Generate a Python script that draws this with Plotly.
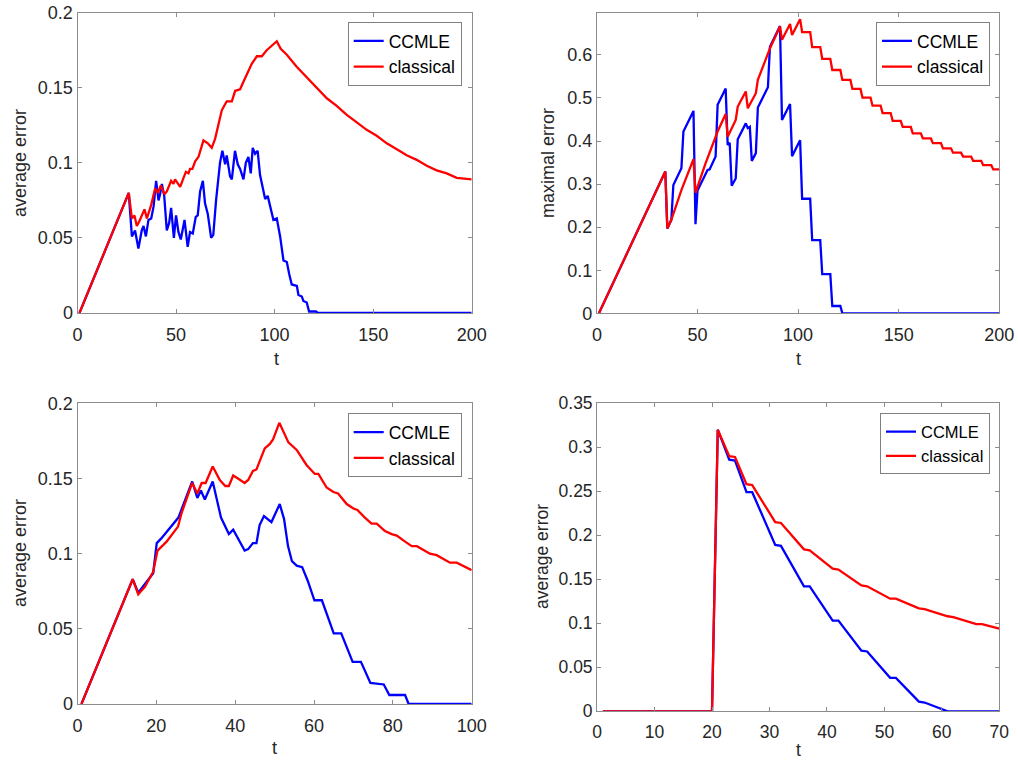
import plotly.graph_objects as go

# ---------------- data ----------------
# Panel 1 (top-left): average error, t = 0..200
p1_ccmle_t = [1, 26, 27.6, 29.2, 30.9, 32.6, 33.5, 34.7, 36.0, 37.4, 38.6, 39.9, 41.1, 41.9, 42.8, 44.0,
              45.3, 46.5, 47.5, 48.9, 50.0, 51.2, 52.4, 54.3, 55.9, 57.1, 58.5, 60.0, 61.0, 62.2, 63.6,
              64.7, 66.1, 67.8, 68.9, 70.3, 72.3, 73.5, 74.9, 75.7, 77.4, 78.3, 79.9, 81.3, 82.5, 84.2,
              85.4, 86.7, 87.9, 88.9, 90.1, 91.4, 92.6, 94.3, 95.2, 96.5, 98.2, 99.4, 101.1, 102.8, 104.5,
              106.2, 107.4, 108.7, 111.3, 112.1, 113.8, 114.6, 116.3, 117.5, 121, 122, 200]
p1_ccmle_v = [0, 0.080, 0.051, 0.055, 0.043, 0.055, 0.058, 0.051, 0.062, 0.063, 0.071, 0.088, 0.075, 0.079,
              0.086, 0.078, 0.055, 0.060, 0.070, 0.050, 0.065, 0.054, 0.049, 0.062, 0.044, 0.054, 0.053,
              0.064, 0.065, 0.081, 0.088, 0.073, 0.066, 0.050, 0.052, 0.075, 0.100, 0.108, 0.099, 0.105,
              0.091, 0.089, 0.108, 0.099, 0.096, 0.089, 0.100, 0.104, 0.093, 0.110, 0.106, 0.108, 0.092,
              0.080, 0.076, 0.078, 0.068, 0.062, 0.063, 0.051, 0.035, 0.034, 0.026, 0.019, 0.018, 0.012,
              0.011, 0.008, 0.007, 0.001, 0.001, 0, 0]
p1_class_t = [1, 26, 27.6, 28.9, 30.1, 31.3, 34.0, 35.2, 37.4, 39.4, 40.8, 42.3, 44.1, 45.3, 47.5, 48.7,
              49.5, 50.4, 52.1, 53.8, 55.0, 56.3, 57.1, 58.3, 59.7, 61.4, 63.9, 66.1, 68.1, 69.8, 73.2,
              75.7, 78.3, 80.0, 82.5, 84.2, 86.7, 88.4, 91.0, 93.5, 96.0, 98.6, 101.1, 103.1, 106.2, 111.2,
              116.3, 121.4, 126.5, 131.5, 136.6, 141.7, 146.7, 151.8, 156.9, 162.0, 167.0, 172.1, 177.2,
              182.2, 187.3, 192.4, 200]
p1_class_v = [0, 0.080, 0.063, 0.065, 0.058, 0.061, 0.069, 0.063, 0.072, 0.083, 0.080, 0.085, 0.079, 0.081,
              0.088, 0.086, 0.089, 0.087, 0.084, 0.090, 0.094, 0.093, 0.096, 0.096, 0.101, 0.104, 0.115,
              0.113, 0.110, 0.116, 0.135, 0.141, 0.141, 0.148, 0.149, 0.154, 0.161, 0.166, 0.171, 0.171,
              0.175, 0.178, 0.181, 0.176, 0.172, 0.164, 0.157, 0.150, 0.143, 0.138, 0.132, 0.127, 0.122,
              0.118, 0.113, 0.109, 0.105, 0.102, 0.098, 0.095, 0.093, 0.090, 0.089]

# Panel 2 (top-right): maximal error, t = 0..200
p2_ccmle_t = [1, 34, 35, 37, 38, 42, 43, 48, 49, 50, 55, 56, 59, 60, 64, 65, 66, 67, 69, 70, 74, 75, 76,
              77, 79, 80, 85, 86, 91, 92, 96, 97, 101, 102, 106, 107, 111, 112, 116, 117, 121, 122, 200]
p2_ccmle_v = [0, 0.329, 0.197, 0.217, 0.298, 0.337, 0.422, 0.470, 0.207, 0.285, 0.333, 0.334, 0.364,
              0.484, 0.522, 0.391, 0.396, 0.296, 0.313, 0.404, 0.441, 0.430, 0.433, 0.354, 0.372, 0.478,
              0.525, 0.619, 0.667, 0.449, 0.486, 0.365, 0.402, 0.266, 0.266, 0.170, 0.170, 0.091, 0.091,
              0.017, 0.017, 0, 0]
p2_class_t = [1, 34, 35, 37, 42, 44, 48, 49, 54, 60, 64, 65, 69, 70, 74, 75, 79, 80, 86, 91, 92, 96, 97,
              101, 102, 106, 107, 111, 112, 116, 117, 121, 122, 126, 127, 131, 132, 136, 137, 141, 142,
              146, 147, 151, 152, 156, 157, 161, 162, 166, 167, 171, 172, 176, 177, 181, 182, 186, 187,
              191, 192, 196, 197, 200]
p2_class_v = [0, 0.329, 0.197, 0.217, 0.286, 0.310, 0.358, 0.280, 0.348, 0.422, 0.463, 0.410, 0.449,
              0.480, 0.515, 0.476, 0.511, 0.542, 0.615, 0.666, 0.635, 0.672, 0.646, 0.683, 0.653, 0.653,
              0.618, 0.618, 0.591, 0.591, 0.565, 0.565, 0.542, 0.542, 0.521, 0.521, 0.501, 0.501, 0.482,
              0.482, 0.465, 0.465, 0.447, 0.447, 0.433, 0.433, 0.418, 0.418, 0.406, 0.406, 0.395, 0.395,
              0.383, 0.383, 0.373, 0.373, 0.364, 0.364, 0.354, 0.354, 0.344, 0.344, 0.334, 0.334]

# Panel 3 (bottom-left): average error, t = 0..100
p3_ccmle_t = [1, 14, 15.4, 19.2, 20.1, 21.2, 25.6, 29.1, 30.4, 31.3, 32.3, 34.3, 36.4, 38.4, 39.5, 42.4,
              43.3, 44.5, 45.4, 46.2, 47.3, 49.2, 51.3, 52.4, 53.4, 54.4, 55.6, 57.0, 58.4, 60.1, 62.0,
              65.0, 66.9, 69.8, 71.9, 74.3, 77.7, 79.1, 83.1, 84.0, 100]
p3_ccmle_v = [0, 0.083, 0.074, 0.087, 0.107, 0.110, 0.124, 0.148, 0.137, 0.142, 0.136, 0.148, 0.124,
              0.113, 0.116, 0.102, 0.103, 0.107, 0.107, 0.119, 0.125, 0.121, 0.133, 0.123, 0.105, 0.095,
              0.092, 0.091, 0.082, 0.069, 0.069, 0.047, 0.047, 0.028, 0.028, 0.014, 0.013, 0.006, 0.006,
              0, 0]
p3_class_t = [1, 14, 15.4, 17.1, 19.2, 20.3, 22.6, 25.5, 26.4, 29.1, 30.4, 31.5, 32.5, 34.3, 36.1, 37.5,
              38.4, 39.5, 40.7, 42.4, 43.3, 44.5, 45.4, 47.5, 48.8, 49.6, 51.2, 53.5, 55.6, 58.1, 60.2,
              61.1, 63.2, 64.9, 66.1, 68.3, 70.0, 71.0, 72.9, 74.6, 75.9, 78.0, 79.7, 81.0, 83.1, 84.8,
              86.1, 88.2, 89.4, 91.1, 93.2, 94.5, 96.2, 97.9, 100]
p3_class_v = [0, 0.083, 0.073, 0.078, 0.088, 0.102, 0.108, 0.118, 0.127, 0.147, 0.140, 0.147, 0.147,
              0.158, 0.149, 0.145, 0.145, 0.152, 0.150, 0.147, 0.149, 0.155, 0.156, 0.170, 0.173, 0.176,
              0.187, 0.174, 0.169, 0.159, 0.153, 0.153, 0.144, 0.141, 0.140, 0.133, 0.130, 0.129, 0.124,
              0.120, 0.120, 0.115, 0.113, 0.112, 0.108, 0.105, 0.105, 0.102, 0.100, 0.099, 0.096, 0.094,
              0.094, 0.092, 0.089]

# Panel 4 (bottom-right): average error, t = 0..70
p4_ccmle_t = [1, 20, 21, 23, 24, 26, 27, 31, 32, 36, 37, 41, 42, 46, 47, 51, 52, 56, 57, 61, 70]
p4_ccmle_v = [0, 0, 0.320, 0.286, 0.285, 0.249, 0.249, 0.189, 0.188, 0.142, 0.142, 0.103, 0.103, 0.069,
              0.068, 0.038, 0.038, 0.011, 0.010, 0, 0]
p4_class_t = [1, 20, 21, 23, 24, 26, 27, 31, 32, 36, 37, 41, 42, 46, 47, 51, 52, 56, 57, 61, 62, 66, 67, 70]
p4_class_v = [0, 0, 0.320, 0.290, 0.289, 0.258, 0.257, 0.215, 0.214, 0.184, 0.183, 0.162, 0.161, 0.143,
              0.142, 0.128, 0.128, 0.117, 0.116, 0.108, 0.107, 0.099, 0.099, 0.094]

series_names = ["CCMLE", "classical"]
x_titles = ["t", "t", "t", "t"]
y_titles = ["average error", "maximal error", "average error", "average error"]

# ---------------- figure ----------------
W, H = 1018, 761
FONT = "Liberation Sans, Arial, sans-serif"
TXT = "#262626"
AX = "#8c8c8c"
BLUE = "#0000ff"
RED = "#ff0000"

fig = go.Figure()

panels = [
    dict(ct=p1_ccmle_t, cv=p1_ccmle_v, rt=p1_class_t, rv=p1_class_v,
         box=(77.5, 471.7, 12.7, 313.0), xr=[0, 200], xd=50, yr=[0, 0.2], yd=0.05, fs=18, lfs=17.5,
         leg=(461.7, 22.0), xt=(276, 359), yt=(20, 163)),
    dict(ct=p2_ccmle_t, cv=p2_ccmle_v, rt=p2_class_t, rv=p2_class_v,
         box=(596.9, 999.3, 12.7, 313.3), xr=[0, 200], xd=50, yr=[0, 0.698], yd=0.1, fs=18, lfs=17.5,
         leg=(990.0, 22.0), xt=(798, 359), yt=(548, 163)),
    dict(ct=p3_ccmle_t, cv=p3_ccmle_v, rt=p3_class_t, rv=p3_class_v,
         box=(77.5, 471.7, 403.3, 704.0), xr=[0, 100], xd=20, yr=[0, 0.2], yd=0.05, fs=18, lfs=17.5,
         leg=(461.7, 413.3), xt=(274, 748), yt=(20, 553)),
    dict(ct=p4_ccmle_t, cv=p4_ccmle_v, rt=p4_class_t, rv=p4_class_v,
         box=(597.1, 999.3, 403.3, 711.3), xr=[0, 70], xd=10, yr=[0, 0.35], yd=0.05, fs=17.5, lfs=16.5,
         leg=(990.0, 413.3), xt=(798, 750), yt=(542, 557)),
]

annotations = []
for i, p in enumerate(panels):
    n = i + 1
    xa = "x" if n == 1 else f"x{n}"
    ya = "y" if n == 1 else f"y{n}"
    lg = "legend" if n == 1 else f"legend{n}"
    fig.add_trace(go.Scatter(x=p["ct"], y=p["cv"], mode="lines", name=series_names[0],
                             line=dict(color=BLUE, width=2.3), xaxis=xa, yaxis=ya, legend=lg))
    fig.add_trace(go.Scatter(x=p["rt"], y=p["rv"], mode="lines", name=series_names[1],
                             line=dict(color=RED, width=2.3), xaxis=xa, yaxis=ya, legend=lg))
    x0, x1, y0, y1 = p["box"]
    common = dict(showline=True, linecolor=AX, linewidth=1, mirror="ticks", ticks="inside",
                  ticklen=4, tickcolor=AX, tickwidth=1, showgrid=False, zeroline=False,
                  tickfont=dict(family=FONT, size=p["fs"], color=TXT), automargin=False)
    fig.layout[f"xaxis{'' if n == 1 else n}"] = dict(
        domain=[x0 / W, x1 / W], range=p["xr"], dtick=p["xd"], tick0=0,
        anchor=ya, ticklabelstandoff=5, **common)
    fig.layout[f"yaxis{'' if n == 1 else n}"] = dict(
        domain=[1 - y1 / H, 1 - y0 / H], range=p["yr"], dtick=p["yd"], tick0=0,
        anchor=xa, ticklabelstandoff=0, **common)
    lx, ly = p["leg"]
    fig.layout[lg] = dict(x=lx / W, y=1 - ly / H, xanchor="right", yanchor="top",
                          xref="paper", yref="paper",
                          bgcolor="white", bordercolor="#808080", borderwidth=1,
                          font=dict(family=FONT, size=p["lfs"], color="black"),
                          tracegroupgap=0, itemwidth=30)
    annotations.append(dict(text=x_titles[i], x=p["xt"][0] / W, y=1 - p["xt"][1] / H,
                            xref="paper", yref="paper", showarrow=False,
                            xanchor="center", yanchor="middle",
                            font=dict(family=FONT, size=p["fs"], color=TXT)))
    annotations.append(dict(text=y_titles[i], x=p["yt"][0] / W, y=1 - p["yt"][1] / H,
                            xref="paper", yref="paper", showarrow=False, textangle=-90,
                            xanchor="center", yanchor="middle",
                            font=dict(family=FONT, size=p["fs"], color=TXT)))

fig.update_layout(width=W, height=H, margin=dict(l=0, r=0, t=0, b=0),
                  paper_bgcolor="white", plot_bgcolor="white",
                  annotations=annotations, showlegend=True)

fig.write_html("out.html", config={"displayModeBar": False},
               post_script="document.body.style.margin='0';document.body.style.overflow='hidden';")
